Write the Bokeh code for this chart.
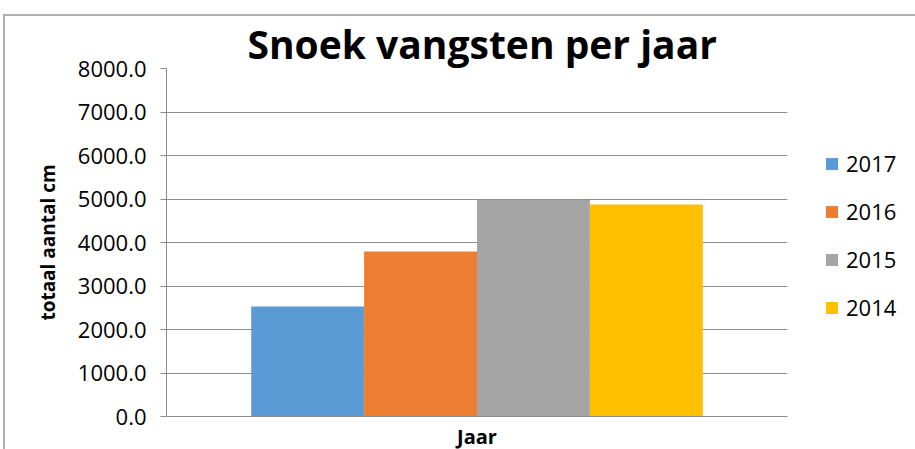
from bokeh.plotting import figure
from bokeh.models import FactorRange, Range1d, NumeralTickFormatter, Legend, LegendItem, ColumnDataSource, FixedTicker, InlineStyleSheet
from bokeh.embed import file_html
from bokeh.resources import INLINE

years = ["2017", "2016", "2015", "2014"]
values = [2530, 3795, 4980, 4875]
colors = ["#5B9BD5", "#ED7D31", "#A5A5A5", "#FFC000"]
y_ticks = [0, 1000, 2000, 3000, 4000, 5000, 6000, 7000, 8000]

FONT = "Open Sans"

xr = FactorRange(factors=years, range_padding=0.75, range_padding_units="absolute")
p = figure(x_range=xr, y_range=Range1d(0, 8000),
           frame_width=621, frame_height=348,
           min_border_left=166, min_border_right=126, min_border_top=68, min_border_bottom=31,
           output_backend="svg", toolbar_location=None,
           title="Snoek vangsten per jaar")

# chart-area border (left and top edges, as in the reference)
p.stylesheets = [InlineStyleSheet(css=(
    ":host { position: relative; }"
    ":host::after { content: ''; position: absolute; left: 3px; top: 14px; right: 0px; bottom: 0px;"
    " border-left: 2px solid #b0b0b0; border-top: 2px solid #b0b0b0; pointer-events: none; }"
))]

src = ColumnDataSource(dict(year=years, value=values, color=colors))
r = p.vbar(x="year", top="value", width=1.0, color="color", source=src, line_color=None)

p.title.text_font = FONT
p.title.text_font_size = "39px"
p.title.text_font_style = "bold"
p.title.align = "left"
p.title.offset = 81
p.title.standoff = -3
p.title.text_color = "black"

p.outline_line_color = None
p.xgrid.grid_line_color = None
p.ygrid.grid_line_color = "#8c8c8c"
p.ygrid.grid_line_width = 1
p.ygrid.ticker = FixedTicker(ticks=y_ticks)

ya = p.yaxis[0]
ya.ticker = FixedTicker(ticks=y_ticks)
ya.formatter = NumeralTickFormatter(format="0.0")
ya.major_label_text_font = FONT
ya.major_label_text_font_size = "22px"
ya.major_label_text_color = "black"
ya.major_label_standoff = 14
ya.axis_line_color = "#8c8c8c"
ya.major_tick_line_color = "#8c8c8c"
ya.major_tick_out = 6
ya.major_tick_in = 0
ya.minor_tick_line_color = None
ya.axis_label = "totaal aantal cm"
ya.axis_label_text_font = FONT
ya.axis_label_text_font_size = "19px"
ya.axis_label_text_font_style = "bold"
ya.axis_label_text_color = "black"
ya.axis_label_standoff = 14

xa = p.xaxis[0]
xa.ticker = FixedTicker(ticks=[])
xa.major_tick_line_color = None
xa.minor_tick_line_color = None
xa.major_label_standoff = 0
xa.axis_line_color = "#8c8c8c"
xa.axis_label = "Jaar"
xa.axis_label_text_font = FONT
xa.axis_label_text_font_size = "20px"
xa.axis_label_text_font_style = "bold"
xa.axis_label_text_color = "black"
xa.axis_label_standoff = 6

items = [LegendItem(label=y, renderers=[r], index=i) for i, y in enumerate(years)]
legend = Legend(items=items, location=(37, 94), orientation="vertical")
legend.border_line_color = None
legend.background_fill_alpha = 0
legend.padding = 0
legend.margin = 0
legend.glyph_width = 15
legend.glyph_height = 15
legend.label_height = 22
legend.spacing = 18
legend.label_standoff = 7
legend.label_text_font = FONT
legend.label_text_font_size = "22px"
legend.label_text_color = "black"
p.add_layout(legend, "right")

open("out.html", "w").write(file_html(p, INLINE))
